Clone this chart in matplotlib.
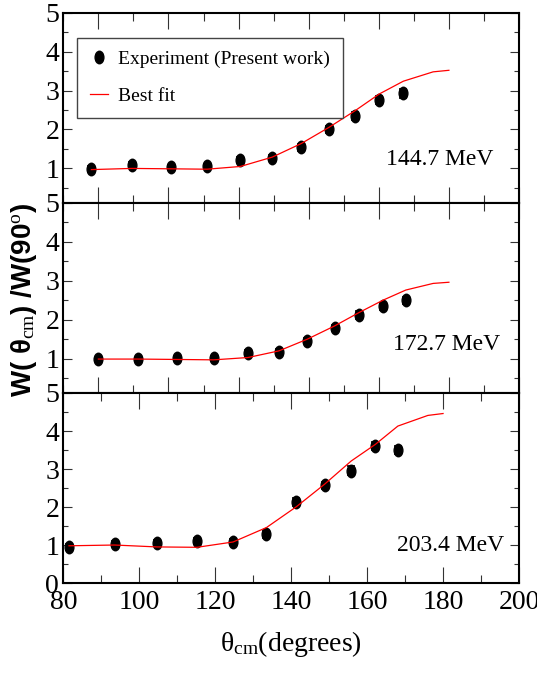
import numpy as np
import matplotlib.pyplot as plt
from matplotlib.path import Path
from matplotlib.transforms import Affine2D
from matplotlib.lines import Line2D
from matplotlib.ticker import MultipleLocator

plt.rcParams['font.family'] = ['Liberation Serif', 'DejaVu Serif']
plt.rcParams['mathtext.fontset'] = 'custom'
plt.rcParams['mathtext.rm'] = 'Liberation Serif'
plt.rcParams['mathtext.it'] = 'Liberation Serif:italic'

# 144.7 MeV
theta_144 = [77.9, 89.5, 100.7, 111.0, 120.5, 129.6, 137.9, 145.7, 153.2, 160.1, 167.0]
w_144 = [0.98, 1.09, 1.03, 1.05, 1.21, 1.28, 1.54, 2.01, 2.34, 2.76, 2.93]
err_144 = [0.07, 0.07, 0.06, 0.06, 0.08, 0.07, 0.08, 0.09, 0.10, 0.11, 0.11]
fit_theta_144 = [78.0, 89.5, 100.7, 111.0, 120.5, 129.6, 137.9, 145.7, 153.2, 160.1, 167.0, 175.5, 180.0]
fit_w_144 = [0.97, 1.00, 0.99, 0.98, 1.05, 1.29, 1.64, 2.05, 2.48, 2.91, 3.24, 3.48, 3.52]

# 172.7 MeV
theta_172 = [80.0, 91.4, 102.5, 112.9, 122.7, 131.5, 139.6, 147.4, 154.3, 161.2, 167.7]
w_172 = [0.98, 0.98, 1.03, 1.03, 1.15, 1.18, 1.46, 1.78, 2.12, 2.35, 2.50]
err_172 = [0.05, 0.05, 0.05, 0.05, 0.06, 0.06, 0.07, 0.08, 0.09, 0.09, 0.09]
fit_theta_172 = [80.0, 91.4, 102.5, 112.9, 122.7, 131.5, 139.6, 147.4, 154.3, 161.2, 167.7, 175.5, 180.0]
fit_w_172 = [0.99, 0.99, 0.98, 0.97, 1.03, 1.20, 1.50, 1.84, 2.18, 2.50, 2.76, 2.93, 2.96]

# 203.4 MeV
theta_203 = [81.5, 93.5, 104.6, 115.2, 124.7, 133.5, 141.4, 148.8, 155.8, 162.2, 168.1]
w_203 = [0.95, 1.03, 1.05, 1.10, 1.09, 1.28, 2.13, 2.57, 2.96, 3.61, 3.50]
err_203 = [0.07, 0.07, 0.07, 0.08, 0.08, 0.09, 0.10, 0.10, 0.11, 0.11, 0.10]
fit_theta_203 = [81.5, 93.5, 104.6, 115.2, 124.7, 133.5, 141.4, 148.8, 155.8, 162.2, 168.1, 176.0, 180.0]
fit_w_203 = [0.98, 1.00, 0.95, 0.94, 1.08, 1.46, 2.01, 2.60, 3.21, 3.65, 4.13, 4.41, 4.46]

energies = ['144.7 MeV', '172.7 MeV', '203.4 MeV']

# tall ellipse marker like the xmgrace circles in the original
ellipse = Path.unit_circle().transformed(Affine2D().scale(0.7, 1.0))

fig = plt.figure(figsize=(5.37, 6.77), dpi=100)
left, width = 0.1179, 0.8486
rects = [[left, 0.7006, width, 0.2807],
         [left, 0.4195, width, 0.2811],
         [left, 0.1388, width, 0.2807]]

panels = [
    (theta_144, w_144, err_144, fit_theta_144, fit_w_144, (70, 200), (0.12, 5), (0.943, 0.225)),
    (theta_172, w_172, err_172, fit_theta_172, fit_w_172, (70, 200), (0.12, 5), (0.958, 0.253)),
    (theta_203, w_203, err_203, fit_theta_203, fit_w_203, (80, 200), (0, 5), (0.967, 0.195)),
]

axes = []
for i, (th, w, err, fth, fw, xl, yl, tpos) in enumerate(panels):
    ax = fig.add_axes(rects[i])
    ax.errorbar(th, w, yerr=err, ls='none', marker=ellipse, ms=9,
                mfc='black', mec='black', ecolor='black', elinewidth=1.2,
                capsize=3, capthick=1.2, zorder=2)
    ax.plot(fth, fw, color='red', lw=0.9, zorder=3)

    ax.set_xlim(*xl)
    ax.set_ylim(*yl)
    ax.xaxis.set_major_locator(MultipleLocator(20))
    ax.xaxis.set_minor_locator(MultipleLocator(10))
    ax.yaxis.set_major_locator(MultipleLocator(1))
    ax.yaxis.set_minor_locator(MultipleLocator(0.5))
    ax.tick_params(which='both', direction='in', top=True, right=True,
                   labelsize=20, width=0.8, color='#333333')
    ax.tick_params(axis='x', which='major', length=11.5, pad=5)
    ax.tick_params(axis='x', which='minor', length=5.8)
    ax.tick_params(axis='y', which='major', length=6.5, pad=3)
    ax.tick_params(axis='y', which='minor', length=3.6)
    if i < 2:
        ax.tick_params(axis='x', labelbottom=False)
    for s in ax.spines.values():
        s.set_linewidth(1.5)

    ax.text(tpos[0], tpos[1], energies[i], transform=ax.transAxes,
            ha='right', va='center', fontsize=17)
    axes.append(ax)

handles = [
    Line2D([], [], ls='none', marker=ellipse, ms=9, color='black',
           label='Experiment (Present work)'),
    Line2D([], [], color='red', lw=0.9, label='Best fit'),
]
leg = axes[0].legend(handles=handles, loc='upper left', bbox_to_anchor=(0.031, 0.867),
                     borderaxespad=0, fontsize=14, fancybox=False, edgecolor='#444444',
                     framealpha=1, handlelength=0.9, handletextpad=0.55,
                     borderpad=0.65, labelspacing=1.0)
leg.get_frame().set_linewidth(1.0)

axes[2].set_xlabel(r'θ$_{\rm cm}$(degrees)', fontsize=20, labelpad=10)

fig.text(0.045, 0.557, r'W( θ$_{\rm cm}$) /W(90$^{\rm o}$)', rotation=90,
         ha='center', va='center', fontsize=20, fontweight='bold',
         family=['Liberation Sans', 'DejaVu Sans'])

fig.savefig('out.png', dpi=100)
